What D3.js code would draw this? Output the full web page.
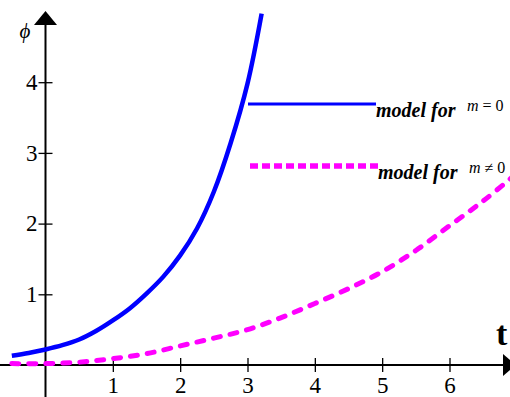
<!DOCTYPE html>
<html>
<head>
<meta charset="utf-8">
<script src="https://cdn.jsdelivr.net/npm/d3@7/dist/d3.min.js"></script>
<style>
  body { margin: 0; background: #fff; }
  svg { display: block; }
</style>
</head>
<body>
<svg id="chart" width="510" height="397"></svg>
<script>
// values
var tBlue   = [-0.5, -0.25, 0, 0.25, 0.5, 0.75, 1, 1.25, 1.5, 1.75, 2, 2.25, 2.5, 2.75, 3, 3.21];
var phiBlue = [0.13, 0.17, 0.22, 0.28, 0.36, 0.48, 0.63, 0.80, 1.01, 1.25, 1.55, 1.93, 2.45, 3.14, 3.98, 4.97];

var tPink   = [-0.5, 0, 0.5, 1, 1.5, 2, 2.5, 3, 3.5, 4, 4.5, 5, 5.5, 6, 6.5, 6.95];
var phiPink = [0.02, 0.02, 0.04, 0.09, 0.16, 0.27, 0.38, 0.50, 0.67, 0.87, 1.08, 1.32, 1.62, 1.97, 2.32, 2.67];

var xTicks = [1, 2, 3, 4, 5, 6];
var yTicks = [1, 2, 3, 4];

var legendLabels = ["model for", "model for"];
var legendMath = ["m = 0", "m \u2260 0"];

var serif = "'Liberation Serif', 'DejaVu Serif', serif";

var svg = d3.select("#chart");

var x = d3.scaleLinear().domain([0, 6]).range([45.5, 449.5]);
var y = d3.scaleLinear().domain([0, 4]).range([365, 82.2]);

var line = d3.line()
    .x(function(d) { return x(d[0]); })
    .y(function(d) { return y(d[1]); })
    .curve(d3.curveCatmullRom);

// axes lines
svg.append("line")
    .attr("x1", 0).attr("x2", 503)
    .attr("y1", y(0)).attr("y2", y(0))
    .attr("stroke", "#000").attr("stroke-width", 2);
svg.append("line")
    .attr("x1", x(0)).attr("x2", x(0))
    .attr("y1", 22).attr("y2", 397)
    .attr("stroke", "#000").attr("stroke-width", 2);

// arrow heads
svg.append("path")
    .attr("d", "M" + x(0) + ",11 L" + (x(0) - 11.5) + ",25 L" + (x(0) + 11.5) + ",25 Z")
    .attr("fill", "#000");
svg.append("path")
    .attr("d", "M516," + y(0) + " L503," + (y(0) - 11) + " L503," + (y(0) + 11) + " Z")
    .attr("fill", "#000");

var xAxis = d3.axisBottom(x).tickValues(xTicks).tickSize(7).tickPadding(5).tickFormat(d3.format("d"));
var yAxis = d3.axisLeft(y).tickValues(yTicks).tickSize(7).tickPadding(1).tickFormat(d3.format("d"));

var gx = svg.append("g")
    .attr("transform", "translate(0," + y(0) + ")")
    .call(xAxis);
var gy = svg.append("g")
    .attr("transform", "translate(" + x(0) + ",0)")
    .call(yAxis);

[gx, gy].forEach(function(g) {
  g.select(".domain").remove();
  g.selectAll("text")
      .attr("font-family", serif)
      .attr("font-size", 23)
      .attr("fill", "#000");
  g.selectAll("line").attr("stroke", "#000").attr("stroke-width", 1.3);
});
gx.selectAll(".tick line").attr("y1", -7);
gy.selectAll(".tick line").attr("x1", 7).attr("x2", -7);

// axis titles
svg.append("text")
    .attr("x", 25).attr("y", 38)
    .attr("text-anchor", "middle")
    .attr("font-family", serif)
    .attr("font-style", "italic")
    .attr("font-size", 21)
    .text("\u03D5");
svg.append("text")
    .attr("x", 496).attr("y", 345)
    .attr("font-family", serif)
    .attr("font-weight", "bold")
    .attr("font-size", 34)
    .text("t");

// curves
svg.append("path")
    .datum(d3.zip(tPink, phiPink))
    .attr("d", line)
    .attr("fill", "none")
    .attr("stroke", "#ff00ff")
    .attr("stroke-width", 5)
    .attr("stroke-linecap", "round")
    .attr("stroke-dasharray", "7,10");

svg.append("path")
    .datum(d3.zip(tBlue, phiBlue))
    .attr("d", line)
    .attr("fill", "none")
    .attr("stroke", "#0000ff")
    .attr("stroke-width", 4.5);

// legend
var legend = [
  {y: 104, color: "#0000ff", width: 3.2, dash: null, x1: 248, x2: 376},
  {y: 166, color: "#ff00ff", width: 5.5, dash: "8,4", x1: 250, x2: 378}
];

legend.forEach(function(d, i) {
  svg.append("line")
      .attr("x1", d.x1).attr("x2", d.x2)
      .attr("y1", d.y).attr("y2", d.y)
      .attr("stroke", d.color)
      .attr("stroke-width", d.width)
      .attr("stroke-dasharray", d.dash);
  svg.append("text")
      .attr("x", d.x2).attr("y", d.y + 13)
      .attr("font-family", serif)
      .attr("font-style", "italic")
      .attr("font-weight", "bold")
      .attr("font-size", 20)
      .text(legendLabels[i]);
  svg.append("text")
      .attr("x", d.x2 + 91).attr("y", d.y + 7)
      .attr("font-family", serif)
      .attr("font-size", 16)
      .call(function(t) {
        var parts = legendMath[i].split(" ");
        t.append("tspan").attr("font-style", "italic").text(parts[0]);
        t.append("tspan").text(" " + parts[1] + " " + parts[2]);
      });
});
</script>
</body>
</html>
